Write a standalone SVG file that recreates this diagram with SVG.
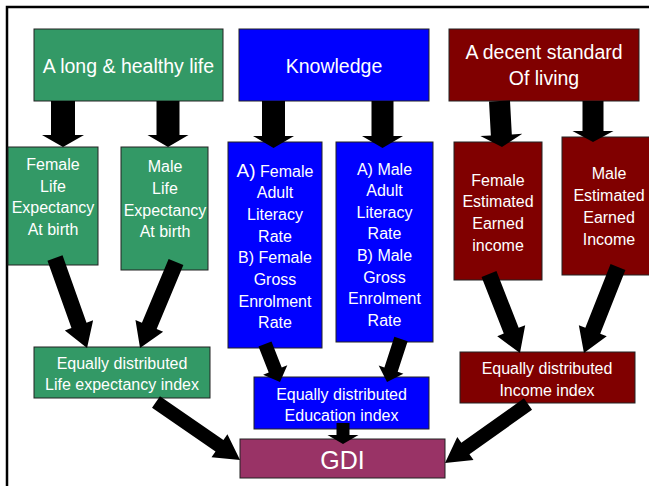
<svg xmlns="http://www.w3.org/2000/svg" width="649" height="486" viewBox="0 0 649 486">
<style>
.box{stroke:#222;stroke-width:1}
.g{fill:#339966}.b{fill:#0000FF}.r{fill:#800000}.p{fill:#993366}
text{font-family:"Liberation Sans",Arial,sans-serif;fill:#fff;text-anchor:middle}
.t1{font-size:19.5px}.t2{font-size:16px}.t3{font-size:25px}
.arr{fill:#000}
</style>
<rect width="649" height="486" fill="#fff"/>
<path d="M7,486 V7 H649" fill="none" stroke="#000" stroke-width="2.5"/>

<g id="n-health"><rect class="box g" x="34" y="29" width="189" height="72"/><text class="t1" x="128.5" y="73">A long &amp; healthy life</text></g>
<g id="n-knowledge"><rect class="box b" x="239" y="29" width="190" height="72"/><text class="t1" x="334" y="73">Knowledge</text></g>
<g id="n-living"><rect class="box r" x="449" y="29" width="190" height="72"/><text class="t1" x="544" y="59">A decent standard</text><text class="t1" x="544" y="85">Of living</text></g>

<g id="n-fle"><rect class="box g" x="8" y="147" width="90" height="118"/>
<text class="t2" x="53" y="170">Female</text><text class="t2" x="53" y="191.5">Life</text><text class="t2" x="53" y="213">Expectancy</text><text class="t2" x="53" y="234.5">At birth</text></g>
<g id="n-mle"><rect class="box g" x="121" y="147" width="87" height="123"/>
<text class="t2" x="165" y="171.5">Male</text><text class="t2" x="165" y="193.5">Life</text><text class="t2" x="165" y="215.5">Expectancy</text><text class="t2" x="165" y="236.5">At birth</text></g>

<g id="n-fedu"><rect class="box b" x="228" y="142" width="94" height="206"/>
<text class="t2" x="275" y="176.5"><tspan font-size="19">A)</tspan> Female</text><text class="t2" x="275" y="198.2">Adult</text><text class="t2" x="275" y="219.9">Literacy</text><text class="t2" x="275" y="241.6">Rate</text><text class="t2" x="275" y="263.3">B) Female</text><text class="t2" x="275" y="285">Gross</text><text class="t2" x="275" y="306.7">Enrolment</text><text class="t2" x="275" y="328.4">Rate</text></g>
<g id="n-medu"><rect class="box b" x="336" y="142" width="97" height="200"/>
<text class="t2" x="384.5" y="174.5">A) Male</text><text class="t2" x="384.5" y="196.1">Adult</text><text class="t2" x="384.5" y="217.7">Literacy</text><text class="t2" x="384.5" y="239.3">Rate</text><text class="t2" x="384.5" y="260.9">B) Male</text><text class="t2" x="384.5" y="282.5">Gross</text><text class="t2" x="384.5" y="304.1">Enrolment</text><text class="t2" x="384.5" y="325.7">Rate</text></g>

<g id="n-finc"><rect class="box r" x="454" y="142" width="88" height="138"/>
<text class="t2" x="498" y="185.5">Female</text><text class="t2" x="498" y="207">Estimated</text><text class="t2" x="498" y="228.5">Earned</text><text class="t2" x="498" y="250.5">income</text></g>
<g id="n-minc"><rect class="box r" x="562" y="137" width="94" height="138"/>
<text class="t2" x="609" y="178.7">Male</text><text class="t2" x="609" y="200.9">Estimated</text><text class="t2" x="609" y="223.1">Earned</text><text class="t2" x="609" y="245.3">Income</text></g>

<g id="n-lei"><rect class="box g" x="34" y="347" width="176" height="51"/>
<text class="t2" x="122" y="368.7">Equally distributed</text><text class="t2" x="122" y="389.7">Life expectancy index</text></g>
<g id="n-edi"><rect class="box b" x="254" y="377" width="175" height="52"/>
<text class="t2" x="341.5" y="399.7">Equally distributed</text><text class="t2" x="341.5" y="420.7">Education index</text></g>
<g id="n-ini"><rect class="box r" x="460" y="352" width="175" height="51"/>
<text class="t2" x="547" y="373.7">Equally distributed</text><text class="t2" x="547" y="395.7">Income index</text></g>

<g id="n-gdi"><rect class="box p" x="240" y="439" width="205" height="39"/><text class="t3" x="342.5" y="468.5">GDI</text></g>

<g id="connectors" class="arr">
<path transform="translate(63,101)" d="M-12,0 H12 V34 H21 L0,46 L-21,34 H-12 Z"/>
<path transform="translate(168,101)" d="M-11.5,0 H11.5 V34 H20.5 L0,46 L-20.5,34 H-11.5 Z"/>
<path transform="translate(273.5,101)" d="M-11.5,0 H11.5 V35 H20.5 L0,47 L-20.5,35 H-11.5 Z"/>
<path transform="translate(382.5,101)" d="M-11,0 H11 V35 H20.5 L0,47 L-20.5,35 H-11 Z"/>
<path transform="translate(499.5,101) rotate(-3.1)" d="M-10.5,0 H10.5 V34 H21 L0,46 L-21,34 H-10.5 Z"/>
<path transform="translate(593,101)" d="M-10.5,0 H10.5 V30 H20.5 L0,41 L-20.5,30 H-10.5 Z"/>
<path transform="translate(55,258) rotate(-19.6)" d="M-8,0 H8 V71.5 H15 L0,95.5 L-15,71.5 H-8 Z"/>
<path transform="translate(176,262) rotate(22.7)" d="M-8,0 H8 V69.2 H15 L0,93.2 L-15,69.2 H-8 Z"/>
<path transform="translate(265,344) rotate(-21.5)" d="M-7,0 H7 V27.9 H13 L0,40.9 L-13,27.9 H-7 Z"/>
<path transform="translate(401,339) rotate(18)" d="M-7,0 H7 V32.2 H13 L0,45.2 L-13,32.2 H-7 Z"/>
<path transform="translate(489,274) rotate(-21.4)" d="M-8,0 H8 V60.9 H15 L0,84.9 L-15,60.9 H-8 Z"/>
<path transform="translate(618,267) rotate(21.6)" d="M-8,0 H8 V68.5 H15 L0,92.5 L-15,68.5 H-8 Z"/>
<path transform="translate(156,402) rotate(-55.4)" d="M-7,0 H7 V77.1 H14 L0,102.1 L-14,77.1 H-7 Z"/>
<path transform="translate(343,423)" d="M-6.5,0 H6.5 V12 H15.5 L0,21 L-15.5,12 H-6.5 Z"/>
<path transform="translate(528,404) rotate(54.6)" d="M-7,0 H7 V76.8 H14 L0,101.8 L-14,76.8 H-7 Z"/>
</g>
</svg>
